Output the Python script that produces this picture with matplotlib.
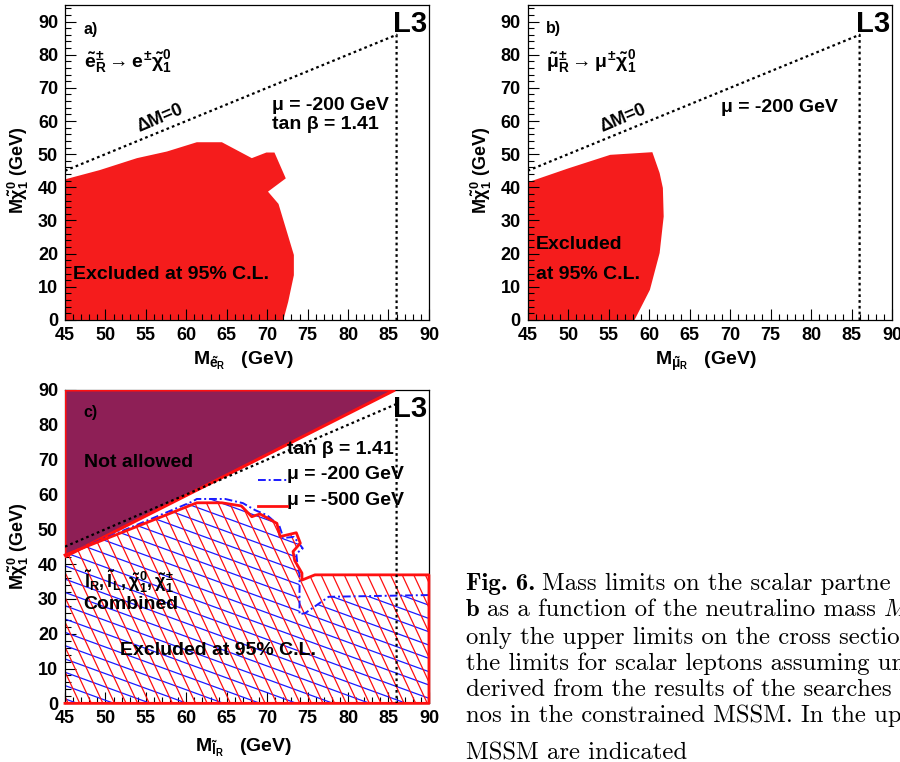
"""
L3 slepton mass limits: three exclusion panels plus the caption text
"""
import numpy as np
import matplotlib
matplotlib.use('Agg')
import matplotlib.pyplot as plt
from matplotlib.patches import Polygon
from matplotlib.collections import LineCollection
from matplotlib.ticker import MultipleLocator

plt.rcParams['font.family'] = ['Liberation Sans', 'DejaVu Sans']
plt.rcParams['font.weight'] = 'bold'
plt.rcParams['mathtext.fontset'] = 'custom'
plt.rcParams['mathtext.rm'] = 'Liberation Sans:bold'
plt.rcParams['mathtext.it'] = 'Liberation Sans:bold'
plt.rcParams['mathtext.bf'] = 'Liberation Sans:bold'
plt.rcParams['mathtext.sf'] = 'Liberation Sans:bold'

# ---- data (GeV) ----
# panel a: selectron exclusion contour
excl_a_x = [45, 49.3, 53.9, 57.6, 61.3, 64.4, 68.1, 69.9, 70.9, 72.3, 70.1, 71.4, 73.3, 73.3, 72.6, 72.0, 45]
excl_a_y = [42.4, 45.2, 48.8, 50.8, 53.6, 53.6, 48.8, 50.5, 50.5, 42.7, 38.7, 35.0, 19.6, 13.5, 5.5, 0, 0]

# panel b: smuon exclusion contour
excl_b_x = [45, 50.0, 55.2, 60.4, 61.3, 61.7, 61.8, 61.3, 60.1, 58.2, 45]
excl_b_y = [41.5, 45.7, 49.8, 50.6, 44.3, 39.8, 31.2, 20.2, 9.1, 0, 0]

# panel c: combined limits, mu = -500 GeV (red) and mu = -200 GeV (blue)
mu500_x = [45, 61.3, 64.4, 66.8, 68.1, 69.1, 71.2, 71.6, 73.6, 74.1, 73.2, 73.4, 74.3, 74.3, 75.9, 90, 90, 45]
mu500_y = [42.6, 57.6, 57.6, 56.7, 53.6, 54.4, 51.7, 47.9, 49.0, 46.0, 43.6, 41.0, 37.4, 35.4, 36.9, 36.9, 0, 0]
mu200_x = [45, 60.8, 61.3, 64.8, 67.0, 68.5, 70.0, 71.5, 72.0, 73.3, 74.4, 73.6, 73.8, 74.0, 74.0, 74.7, 77.6, 90, 90, 45]
mu200_y = [42.6, 58.0, 58.7, 58.7, 57.5, 55.5, 54.0, 51.0, 47.5, 47.8, 44.5, 43.0, 38.5, 37.1, 25.6, 25.9, 30.6, 31.1, 0, 0]
notallowed_x = [45, 85.8, 45]
notallowed_y = [42.1, 90, 90]

# kinematic limit dM = 0 and the 86 GeV line
dm0_x = [45, 86, 86]
dm0_y = [45, 86, 0]

caption_lines = [
    ('Fig. 6.', 'Mass limits on the scalar partne', None),
    ('b', 'as a function of the neutralino mass', 'M'),
    (None, 'only the upper limits on the cross sectio', None),
    (None, 'the limits for scalar leptons assuming un', None),
    (None, 'derived from the results of the searches f', None),
    (None, 'nos in the constrained MSSM. In the up', None),
    (None, 'MSSM are indicated', None),
]
# baselines of the caption lines, pixels from the top
caption_base = [590, 616, 644, 670, 696, 722, 759]

fig = plt.figure(figsize=(9, 7.62), dpi=100)


def setup_axes(rect, ymax, xlab, ylab, ylab_y):
    ax = fig.add_axes(rect)
    ax.set_xlim(45, 90)
    ax.set_ylim(0, ymax)
    ax.xaxis.set_major_locator(MultipleLocator(5))
    ax.xaxis.set_minor_locator(MultipleLocator(1))
    ax.yaxis.set_major_locator(MultipleLocator(10))
    ax.yaxis.set_minor_locator(MultipleLocator(2))
    ax.tick_params(which='both', direction='in', top=False, right=False,
                   labelsize=13, width=0.8)
    ax.tick_params(which='major', length=8, pad=5)
    ax.tick_params(which='minor', length=4)
    for lab in ax.get_xticklabels() + ax.get_yticklabels():
        lab.set_fontweight('bold')
    for s in ax.spines.values():
        s.set_linewidth(0.9)
    ax.set_xlabel(xlab, fontsize=14, fontweight='bold')
    ax.set_ylabel(ylab, fontsize=13, fontweight='bold')
    ax.xaxis.set_label_coords(0.49, -0.095)
    ax.yaxis.set_label_coords(-0.092, ylab_y)
    return ax


def hatch_fill(ax, xs, ys, color, angle, step, lw=0.9):
    # parallel lines at a screen angle, clipped to the polygon
    poly = Polygon(np.column_stack([xs, ys]), closed=True, fc='none', ec='none')
    ax.add_patch(poly)
    bb = ax.get_position()
    w = bb.width * fig.get_figwidth() * fig.dpi
    h = bb.height * fig.get_figheight() * fig.dpi
    t = np.deg2rad(angle)
    d = np.array([np.cos(t), np.sin(t)])
    n = np.array([-np.sin(t), np.cos(t)])
    L = np.hypot(w, h)
    segs = []
    for k in np.arange(-L, L, step):
        c = np.array([w / 2, h / 2]) + n * k
        p0 = c - d * L
        p1 = c + d * L
        segs.append([(p0[0] / w, p0[1] / h), (p1[0] / w, p1[1] / h)])
    lc = LineCollection(segs, colors=color, linewidths=lw, transform=ax.transAxes)
    lc.set_clip_path(poly)
    ax.add_collection(lc, autolim=False)


def dm_line(ax):
    ax.plot(dm0_x, dm0_y, color='black', lw=1.6, ls=(0, (1.2, 1.4)), zorder=5)


ylab = r'$M\tilde{\chi}^{0}_{1}$ (GeV)'

# ---- panel a ----
ax1 = setup_axes([0.0722, 0.5801, 0.4044, 0.4134], 95,
                 r'$M_{\tilde{e}_{R}}$   (GeV)', ylab, 0.476)
ax1.fill(excl_a_x, excl_a_y, color='#f51c1c', lw=0)
dm_line(ax1)
ax1.text(47.3, 87.5, 'a)', fontsize=11.5, va='center')
ax1.text(47.3, 78, r'$\tilde{e}^{\pm}_{R} \rightarrow e^{\pm}\tilde{\chi}^{0}_{1}$', fontsize=14, va='center')
ax1.text(70.6, 64.7, 'μ = -200 GeV', fontsize=14, va='center')
ax1.text(70.6, 58.8, 'tan β = 1.41', fontsize=14, va='center')
ax1.text(56.7, 60.8, 'ΔM=0', fontsize=13, rotation=23, ha='center', va='center')
ax1.text(89.8, 89.4, 'L3', fontsize=21, ha='right', va='center')
ax1.text(46.0, 13.6, 'Excluded at 95% C.L.', fontsize=14, va='center')

# ---- panel b ----
ax2 = setup_axes([0.5863, 0.5801, 0.4048, 0.4134], 95,
                 r'$M_{\tilde{\mu}_{R}}$   (GeV)', ylab, 0.476)
ax2.fill(excl_b_x, excl_b_y, color='#f51c1c', lw=0)
dm_line(ax2)
ax2.text(47.3, 87.9, 'b)', fontsize=11.5, va='center')
ax2.text(47.3, 78, r'$\tilde{\mu}^{\pm}_{R} \rightarrow \mu^{\pm}\tilde{\chi}^{0}_{1}$', fontsize=14, va='center')
ax2.text(68.9, 64.0, 'μ = -200 GeV', fontsize=14, va='center')
ax2.text(56.8, 60.7, 'ΔM=0', fontsize=13, rotation=23, ha='center', va='center')
ax2.text(89.8, 89.4, 'L3', fontsize=21, ha='right', va='center')
ax2.text(46.0, 22.7, 'Excluded', fontsize=14, va='center')
ax2.text(46.0, 13.6, 'at 95% C.L.', fontsize=14, va='center')

# ---- panel c ----
ax3 = setup_axes([0.0722, 0.0770, 0.4044, 0.4112], 90,
                 r'$M_{\tilde{l}_{R}}$   (GeV)', ylab, 0.5)
ax3.xaxis.set_label_coords(0.49, -0.108)
hatch_fill(ax3, mu200_x, mu200_y, '#1a1aff', -20, 12.5)
hatch_fill(ax3, mu500_x, mu500_y, '#ff1010', -65, 10.5)
ax3.fill(notallowed_x, notallowed_y, fc='#8e1f56', ec='#ff1010', lw=2.2, zorder=3)
ax3.plot(mu200_x[:-2], mu200_y[:-2], color='#1a1aff', lw=1.4, ls=(0, (4, 1.5, 1, 1.5)), zorder=3)
# outline of the mu = -500 region, left edge stays the black axis
ax3.plot(mu500_x, mu500_y, color='#ff1010', lw=2, zorder=4, clip_on=False)
dm_line(ax3)
ax3.text(47.3, 83.4, 'c)', fontsize=11.5, va='center', zorder=6)
ax3.text(47.3, 69.1, 'Not allowed', fontsize=14, va='center', zorder=6)
ax3.text(72.4, 72.8, 'tan β = 1.41', fontsize=14, va='center', zorder=6)
ax3.text(72.4, 65.6, 'μ = -200 GeV', fontsize=14, va='center', zorder=6)
ax3.text(72.4, 58.4, 'μ = -500 GeV', fontsize=14, va='center', zorder=6)
ax3.plot([68.9, 72.4], [64.2, 64.2], color='#1a1aff', lw=1.4, ls=(0, (4, 1.5, 1, 1.5)), zorder=6)
ax3.plot([68.9, 72.4], [56.7, 56.7], color='#ff1010', lw=2, zorder=6)
ax3.text(47.3, 35.0, r'$\tilde{l}_{R}, \tilde{l}_{L}, \tilde{\chi}^{0}_{1}, \tilde{\chi}^{\pm}_{1}$',
         fontsize=13, va='center', zorder=6)
ax3.text(47.3, 28.5, 'Combined', fontsize=14, va='center', zorder=6)
ax3.text(51.8, 15.3, 'Excluded at 95% C.L.', fontsize=14, va='center', zorder=6)
ax3.text(89.8, 84.6, 'L3', fontsize=21, ha='right', va='center', zorder=6)

# ---- caption (Computer Modern, runs off the right edge) ----
r = fig.canvas.get_renderer()
W = fig.get_figwidth() * fig.dpi
H = fig.get_figheight() * fig.dpi
x0 = 466
fs = 17.8
for (bold, plain, ital), yb in zip(caption_lines, caption_base):
    y = 1 - yb / H
    x = x0
    if bold:
        t = fig.text(x / W, y, bold, family='cmb10', fontsize=fs, va='baseline', fontweight='normal')
        x = t.get_window_extent(r).x1 + 7
    t = fig.text(x / W, y, plain, family='cmr10', fontsize=fs, va='baseline', fontweight='normal')
    if ital:
        x = t.get_window_extent(r).x1 + 7
        fig.text(x / W, y, ital, family='cmmi10', fontsize=fs, va='baseline', fontweight='normal')

fig.savefig('out.png', dpi=100)
